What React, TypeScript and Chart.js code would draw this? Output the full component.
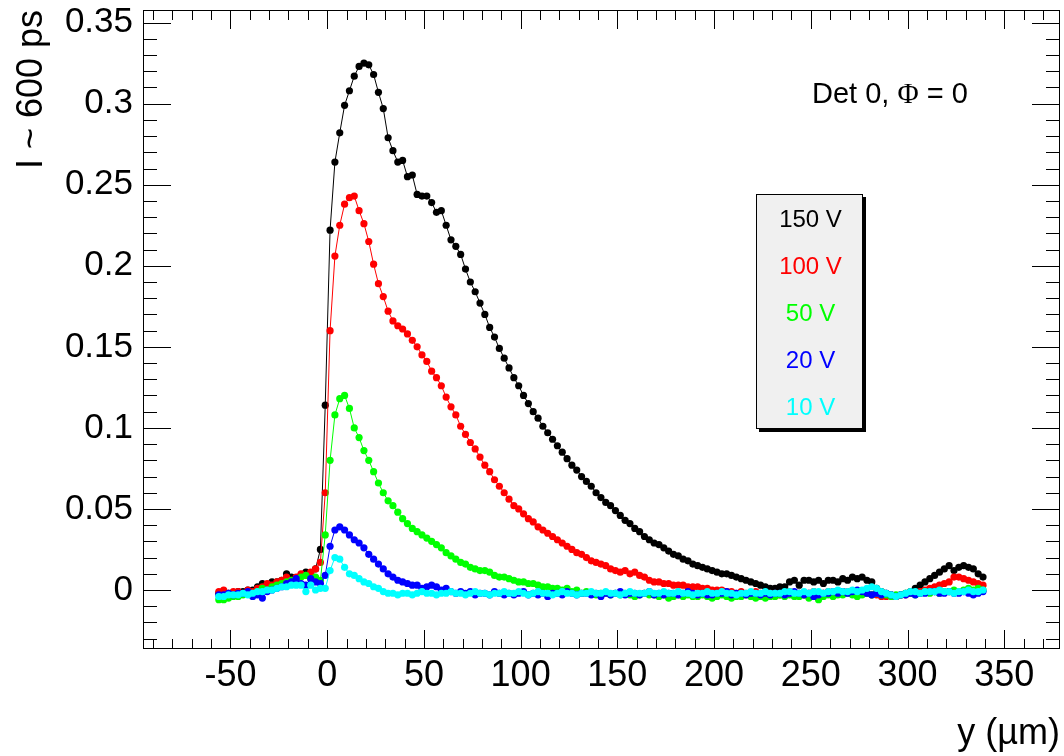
import React, { useEffect, useRef } from "react";
import { Chart, registerables } from "chart.js";

Chart.register(...registerables);

// scan positions y (µm)
const positions = [
  -56, -53.5, -51, -48.5, -46, -43.5, -41, -38.5, -36, -33.5,
  -31, -28.5, -26, -23.5, -21, -18.5, -16, -13.5, -11, -8.5,
  -6, -3.5, -1, 1.5, 4, 6.5, 9, 11.5, 14, 16.5,
  19, 21.5, 24, 26.5, 29, 31.5, 34, 36.5, 39, 41.5,
  44, 46.5, 49, 51.5, 54, 56.5, 59, 61.5, 64, 66.5,
  69, 71.5, 74, 76.5, 79, 81.5, 84, 86.5, 89, 91.5,
  94, 96.5, 99, 101.5, 104, 106.5, 109, 111.5, 114, 116.5,
  119, 121.5, 124, 126.5, 129, 131.5, 134, 136.5, 139, 141.5,
  144, 146.5, 149, 151.5, 154, 156.5, 159, 161.5, 164, 166.5,
  169, 171.5, 174, 176.5, 179, 181.5, 184, 186.5, 189, 191.5,
  194, 196.5, 199, 201.5, 204, 206.5, 209, 211.5, 214, 216.5,
  219, 221.5, 224, 226.5, 229, 231.5, 234, 236.5, 239, 241.5,
  244, 246.5, 249, 251.5, 254, 256.5, 259, 261.5, 264, 266.5,
  269, 271.5, 274, 276.5, 279, 281.5, 284, 286.5, 289, 291.5,
  294, 296.5, 299, 301.5, 304, 306.5, 309, 311.5, 314, 316.5,
  319, 321.5, 324, 326.5, 329, 331.5, 334, 336.5, 339,
];

const v150 = [
  -0.002, -0.003, -0.002, -0.002, -0.001, -0.001, 0.0, 0.0, 0.002, 0.004,
  0.003, 0.005, 0.005, 0.006, 0.01, 0.008, 0.007, 0.009, 0.011, 0.01,
  0.013, 0.025, 0.114, 0.222, 0.264, 0.282, 0.299, 0.308, 0.317, 0.323,
  0.325, 0.324, 0.318, 0.307, 0.297, 0.279, 0.271, 0.264, 0.265, 0.255,
  0.256, 0.244, 0.243, 0.243, 0.239, 0.233, 0.234, 0.225, 0.216, 0.212,
  0.207, 0.198, 0.19, 0.184, 0.177, 0.17, 0.162, 0.156, 0.149, 0.143,
  0.137, 0.131, 0.126, 0.12, 0.115, 0.11, 0.106, 0.101, 0.097, 0.093,
  0.089, 0.085, 0.081, 0.077, 0.074, 0.07, 0.067, 0.064, 0.06, 0.057,
  0.054, 0.052, 0.049, 0.046, 0.043, 0.041, 0.038, 0.036, 0.033, 0.031,
  0.029, 0.028, 0.026, 0.024, 0.022, 0.021, 0.019, 0.018, 0.016, 0.015,
  0.014, 0.013, 0.012, 0.011, 0.01, 0.01, 0.009, 0.008, 0.007, 0.006,
  0.005, 0.004, 0.003, 0.002, 0.001, 0.001, 0.002, 0.002, 0.005, 0.006,
  0.003, 0.006, 0.006, 0.005, 0.006, 0.004, 0.006, 0.006, 0.005, 0.007,
  0.006, 0.008, 0.007, 0.008, 0.006, 0.005, 0.001, -0.001, -0.002, -0.003,
  -0.004, -0.003, -0.002, -0.001, 0.001, 0.003, 0.005, 0.007, 0.009, 0.011,
  0.013, 0.015, 0.012, 0.014, 0.015, 0.014, 0.013, 0.01, 0.008,
];

const v100 = [
  -0.001, 0.0, -0.002, -0.001, -0.001, -0.002, 0.0, -0.001, 0.001, 0.002,
  0.004, 0.003, 0.005, 0.006, 0.008, 0.006, 0.008, 0.01, 0.009, 0.011,
  0.013, 0.017, 0.06, 0.16, 0.206, 0.225, 0.238, 0.242, 0.243, 0.234,
  0.226, 0.215, 0.201, 0.189, 0.181, 0.172, 0.166, 0.163, 0.161, 0.158,
  0.154, 0.15, 0.145, 0.141, 0.135, 0.131, 0.126, 0.119, 0.113, 0.108,
  0.101, 0.096, 0.091, 0.087, 0.082, 0.077, 0.073, 0.068, 0.064, 0.06,
  0.056, 0.052, 0.05, 0.047, 0.044, 0.042, 0.039, 0.037, 0.035, 0.033,
  0.031, 0.029, 0.027, 0.025, 0.023, 0.022, 0.02, 0.018, 0.017, 0.016,
  0.015, 0.013, 0.012, 0.011, 0.012, 0.01, 0.011, 0.009, 0.008, 0.006,
  0.005, 0.005, 0.004, 0.004, 0.003, 0.003, 0.003, 0.002, 0.002, 0.002,
  0.001, 0.001, 0.0, 0.0, 0.0, -0.001, -0.001, -0.002, -0.001, -0.002,
  -0.002, -0.001, -0.002, -0.003, -0.002, -0.002, -0.003, -0.002, -0.001, -0.002,
  -0.002, -0.003, -0.002, -0.001, -0.002, -0.002, -0.001, -0.002, -0.002, -0.001,
  -0.001, -0.002, -0.002, -0.001, -0.002, -0.003, -0.003, -0.004, -0.004, -0.003,
  -0.004, -0.003, -0.003, -0.002, -0.002, -0.001, 0.0, 0.001, 0.002, 0.003,
  0.004, 0.005, 0.008, 0.008, 0.007, 0.006, 0.005, 0.004, 0.003,
];

const v50 = [
  -0.006, -0.006, -0.005, -0.004, -0.004, -0.003, -0.002, -0.002, -0.001, 0.001,
  0.0, 0.002, 0.003, 0.004, 0.005, 0.006, 0.006, 0.008, 0.009, 0.007,
  0.008, 0.006, 0.034, 0.08, 0.108, 0.118, 0.12, 0.112, 0.1, 0.094,
  0.086, 0.08, 0.073, 0.066, 0.06, 0.055, 0.052, 0.048, 0.044, 0.041,
  0.038, 0.036, 0.034, 0.032, 0.03, 0.028, 0.026, 0.023, 0.021, 0.019,
  0.017, 0.016, 0.014, 0.013, 0.012, 0.012, 0.011, 0.009, 0.008, 0.008,
  0.007, 0.006, 0.005, 0.005, 0.004, 0.004, 0.003, 0.002, 0.002, 0.001,
  0.001, 0.0, 0.001, -0.001, 0.0, -0.002, -0.001, -0.002, -0.003, -0.002,
  -0.002, -0.003, -0.002, -0.003, -0.002, -0.003, -0.004, -0.003, -0.002, -0.003,
  -0.003, -0.004, -0.003, -0.005, -0.004, -0.003, -0.004, -0.003, -0.004, -0.004,
  -0.003, -0.004, -0.005, -0.004, -0.003, -0.004, -0.005, -0.004, -0.004, -0.003,
  -0.004, -0.005, -0.004, -0.005, -0.004, -0.004, -0.003, -0.004, -0.003, -0.004,
  -0.004, -0.003, -0.005, -0.004, -0.006, -0.004, -0.003, -0.004, -0.003, -0.003,
  -0.002, -0.003, -0.004, -0.003, -0.002, -0.003, -0.002, -0.003, -0.003, -0.004,
  -0.003, -0.003, -0.002, -0.002, -0.003, -0.002, -0.001, -0.002, -0.001, -0.002,
  -0.001, -0.001, 0.0, -0.001, 0.0, 0.001, 0.0, 0.001, 0.0,
];

const v20 = [
  -0.003, -0.003, -0.002, -0.003, -0.002, -0.002, -0.001, -0.004, -0.003, -0.005,
  -0.001, 0.0, 0.001, 0.002, 0.004, 0.005, 0.007, 0.004, 0.003, 0.007,
  0.005, 0.004, 0.009, 0.027, 0.037, 0.039, 0.037, 0.034, 0.031, 0.029,
  0.026, 0.022, 0.019, 0.016, 0.013, 0.01, 0.008, 0.006, 0.005, 0.004,
  0.003, 0.003, 0.001, 0.002, 0.003, 0.002, 0.0, 0.001, -0.001, -0.002,
  -0.001, -0.002, -0.001, -0.003, -0.002, -0.002, -0.003, -0.001, -0.002, -0.003,
  -0.002, -0.003, -0.002, -0.001, -0.003, -0.002, -0.003, -0.002, -0.004, -0.002,
  -0.002, -0.003, -0.001, -0.002, -0.003, -0.002, -0.002, -0.003, -0.002, -0.004,
  -0.002, -0.003, -0.002, -0.001, -0.003, -0.002, -0.002, -0.003, -0.002, -0.001,
  -0.003, -0.002, -0.003, -0.002, -0.002, -0.003, -0.002, -0.001, -0.002, -0.003,
  -0.002, -0.003, -0.003, -0.002, -0.002, -0.001, -0.003, -0.002, -0.002, -0.003,
  -0.002, -0.002, -0.003, -0.002, -0.003, -0.002, -0.002, -0.003, -0.002, -0.001,
  -0.002, -0.003, -0.002, -0.004, -0.003, -0.002, -0.002, -0.001, -0.002, -0.001,
  -0.002, -0.001, 0.0, -0.001, -0.002, -0.003, -0.002, -0.003, -0.002, -0.003,
  -0.004, -0.003, -0.003, -0.002, -0.003, -0.002, -0.002, -0.001, -0.001, -0.002,
  -0.002, -0.001, -0.002, -0.002, -0.001, -0.002, -0.003, -0.002, -0.001,
];

const v10 = [
  -0.004, -0.004, -0.003, -0.003, -0.003, -0.002, -0.003, -0.002, -0.001, -0.001,
  0.0, 0.0, 0.001, 0.002, 0.002, 0.003, 0.003, 0.003, -0.001, 0.003,
  0.0, 0.001, 0.001, 0.012, 0.02, 0.019, 0.014, 0.01, 0.009, 0.007,
  0.005, 0.004, 0.002, 0.001, -0.001, -0.002, -0.002, -0.003, -0.002, -0.002,
  -0.003, -0.002, -0.001, -0.002, -0.002, -0.003, -0.002, -0.002, -0.001, -0.002,
  -0.002, -0.003, -0.002, -0.001, -0.002, -0.002, -0.003, -0.002, -0.002, -0.001,
  -0.002, -0.002, -0.001, -0.002, -0.003, -0.002, -0.001, -0.002, -0.002, -0.003,
  -0.002, -0.001, -0.002, -0.002, -0.003, -0.002, -0.002, -0.001, -0.002, -0.002,
  -0.001, -0.002, -0.002, -0.003, -0.002, -0.001, -0.002, -0.002, -0.002, -0.001,
  -0.002, -0.002, -0.001, -0.002, -0.002, -0.001, -0.002, -0.002, -0.003, -0.002,
  -0.002, -0.001, -0.002, -0.002, -0.001, -0.002, -0.002, -0.003, -0.002, -0.002,
  -0.001, -0.002, -0.002, -0.001, -0.002, -0.002, -0.002, -0.001, -0.001, -0.002,
  -0.002, -0.001, -0.002, -0.001, -0.001, -0.002, -0.001, -0.001, 0.0, -0.001,
  -0.001, 0.0, -0.001, 0.0, 0.001, 0.002, 0.001, -0.001, -0.002, -0.003,
  -0.004, -0.003, -0.002, -0.001, -0.001, -0.002, -0.001, -0.001, -0.001, 0.0,
  -0.001, -0.001, -0.002, -0.001, -0.001, 0.0, -0.001, -0.001, 0.0,
];

const seriesLabels = ["150 V", "100 V", "50 V", "20 V", "10 V"];
const seriesColors = ["#000000", "#ff0000", "#00ff00", "#0000ff", "#00ffff"];
const seriesValues = [v150, v100, v50, v20, v10];

const xTickValues = [-50, 0, 50, 100, 150, 200, 250, 300, 350];
const yTickValues = [0, 0.05, 0.1, 0.15, 0.2, 0.25, 0.3, 0.35];
const yTickLabels = ["0", "0.05", "0.1", "0.15", "0.2", "0.25", "0.3", "0.35"];

const X_MIN = -95.2;
const X_MAX = 378.8;
const Y_MIN = -0.0364;
const Y_MAX = 0.3578;

const xTitle = "y (\u00b5m)";
const yTitle = "I ~ 600 ps";

const SANS = "'Liberation Sans', Arial, Helvetica, sans-serif";
const SERIF = "'Liberation Serif', 'DejaVu Serif', serif";

const rootPlugin = {
  id: "rootStyle",
  afterDraw(chart: any) {
    const { ctx, chartArea: a, scales } = chart;
    const xs = scales.x;
    const ys = scales.y;
    ctx.save();
    ctx.strokeStyle = "#000";
    ctx.lineWidth = 1;
    ctx.strokeRect(a.left + 0.5, a.top + 0.5, a.right - a.left - 1, a.bottom - a.top - 1);
    ctx.beginPath();
    for (let v = -90; v <= 370; v += 10) {
      const px = Math.round(xs.getPixelForValue(v)) + 0.5;
      const major = v % 50 === 0;
      const len = major ? 19 : 10;
      ctx.moveTo(px, a.bottom);
      ctx.lineTo(px, a.bottom - len);
      ctx.moveTo(px, a.top);
      ctx.lineTo(px, a.top + len);
    }
    for (let k = -3; k <= 35; k++) {
      const v = k / 100;
      const py = Math.round(ys.getPixelForValue(v)) + 0.5;
      const major = k % 5 === 0;
      const len = major ? 28 : 14;
      ctx.moveTo(a.left, py);
      ctx.lineTo(a.left + len, py);
      ctx.moveTo(a.right, py);
      ctx.lineTo(a.right - len, py);
    }
    ctx.stroke();

    // legend box (TPaveText style)
    const bx = 756, by = 194, bw = 107, bh = 235;
    ctx.fillStyle = "#000";
    ctx.fillRect(bx + 3, by + 3, bw, bh);
    ctx.fillStyle = "#f0f0f0";
    ctx.fillRect(bx, by, bw, bh);
    ctx.strokeStyle = "#000";
    ctx.strokeRect(bx + 0.5, by + 0.5, bw - 1, bh - 1);
    ctx.font = `24px ${SANS}`;
    ctx.textAlign = "center";
    ctx.textBaseline = "alphabetic";
    chart.data.datasets.forEach((ds: any, i: number) => {
      ctx.fillStyle = ds.borderColor;
      ctx.fillText(ds.label, bx + bw / 2 + 1, 227 + i * 46.9);
    });

    // annotation
    ctx.textAlign = "left";
    ctx.fillStyle = "#000";
    let tx = 812;
    const ty = 103;
    ctx.font = `29px ${SANS}`;
    const p1 = "Det 0, ";
    ctx.fillText(p1, tx, ty);
    tx += ctx.measureText(p1).width;
    ctx.font = `29px ${SERIF}`;
    ctx.fillText("\u03a6", tx, ty);
    tx += ctx.measureText("\u03a6").width;
    ctx.font = `29px ${SANS}`;
    ctx.fillText(" = 0", tx, ty);
    ctx.restore();
  },
};

export default function App() {
  const ref = useRef<HTMLCanvasElement | null>(null);
  useEffect(() => {
    if (!ref.current) return;
    const datasets = seriesLabels.map((label, i) => ({
      label,
      data: positions.map((x, j) => ({ x, y: seriesValues[i][j] })),
      borderColor: seriesColors[i],
      backgroundColor: seriesColors[i],
      borderWidth: 1,
      pointRadius: 3.6,
      pointBorderWidth: 0,
      pointBackgroundColor: seriesColors[i],
      pointBorderColor: seriesColors[i],
      tension: 0,
      fill: false,
      // later series (10 V) drawn on top, as in the original
      order: seriesLabels.length - i,
    }));
    const chart = new Chart(ref.current, {
      type: "line",
      data: { datasets },
      options: {
        animation: false,
        responsive: false,
        devicePixelRatio: 1,
        layout: { padding: { top: 10, right: 3, left: 0, bottom: 0 } },
        plugins: { legend: { display: false }, tooltip: { enabled: false } },
        scales: {
          x: {
            type: "linear",
            min: X_MIN,
            max: X_MAX,
            grid: { display: false, drawTicks: false },
            border: { display: false },
            afterBuildTicks: (s: any) => {
              s.ticks = xTickValues.map((v) => ({ value: v }));
            },
            afterFit: (s: any) => {
              s.height = 107;
              s.paddingLeft = 0;
              s.paddingRight = 0;
            },
            ticks: {
              autoSkip: false,
              maxRotation: 0,
              minRotation: 0,
              padding: 5,
              color: "#000",
              font: { family: SANS, size: 36 },
              callback: (v: any) => String(v),
            },
            title: {
              display: true,
              text: xTitle,
              align: "end",
              color: "#000",
              font: { family: SANS, size: 36 },
              padding: 0,
            },
          },
          y: {
            type: "linear",
            min: Y_MIN,
            max: Y_MAX,
            grid: { display: false, drawTicks: false },
            border: { display: false },
            afterBuildTicks: (s: any) => {
              s.ticks = yTickValues.map((v) => ({ value: v }));
            },
            afterFit: (s: any) => {
              s.width = 143;
              s.paddingTop = 0;
              s.paddingBottom = 0;
            },
            ticks: {
              autoSkip: false,
              padding: 10,
              color: "#000",
              font: { family: SANS, size: 35 },
              callback: (v: any) => {
                const idx = yTickValues.findIndex((t) => Math.abs(t - v) < 1e-9);
                return idx >= 0 ? yTickLabels[idx] : "";
              },
            },
            title: {
              display: true,
              text: yTitle,
              align: "end",
              color: "#000",
              font: { family: SANS, size: 36 },
              padding: { top: 10, bottom: 0 },
            },
          },
        },
      },
      plugins: [rootPlugin],
    });
    return () => chart.destroy();
  }, []);
  return (
    <div style={{ position: "fixed", left: 0, top: 0, width: 1064, height: 756, background: "#fff" }}>
      <canvas ref={ref} width={1064} height={756} style={{ width: 1064, height: 756, display: "block" }} />
    </div>
  );
}
